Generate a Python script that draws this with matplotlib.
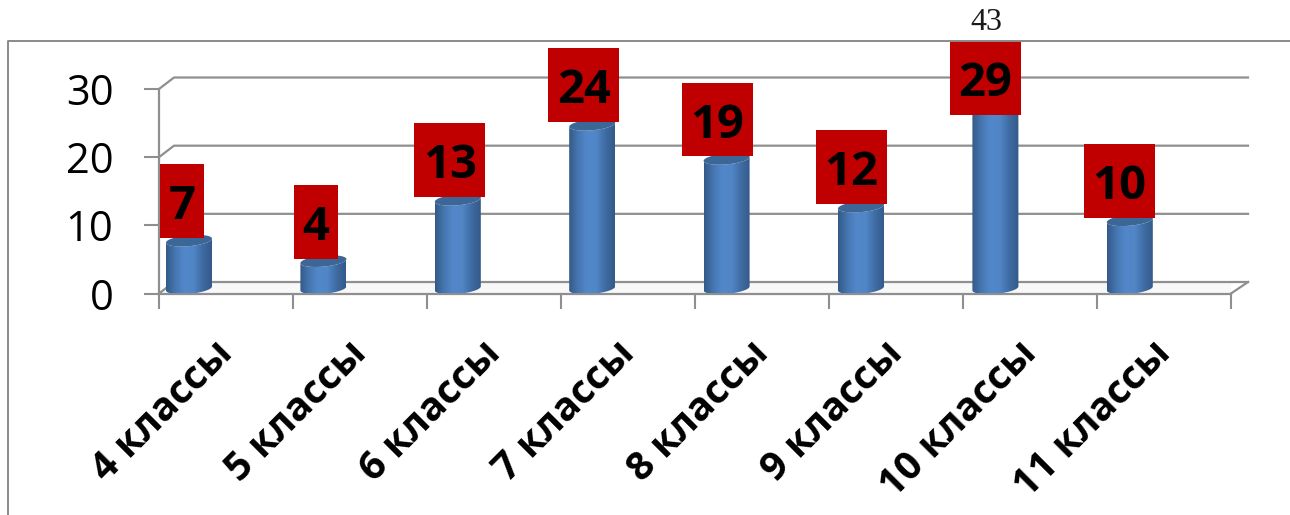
import matplotlib
matplotlib.use("Agg")
import matplotlib.pyplot as plt
import numpy as np
from matplotlib.colors import LinearSegmentedColormap
from matplotlib.lines import Line2D
from matplotlib.patches import PathPatch, Polygon, Rectangle
from matplotlib.path import Path

categories = ["4 классы", "5 классы", "6 классы", "7 классы",
              "8 классы", "9 классы", "10 классы", "11 классы"]
values = [7, 4, 13, 24, 19, 12, 29, 10]
y_ticks = [0, 10, 20, 30]
stray_label = "43"

W, H = 1290, 515
GREY = "#8f8f8f"
slot_px = 134.0
unit_px = 6.82

plt.rcParams["font.family"] = ["Open Sans", "DejaVu Sans"]

fig = plt.figure(figsize=(W / 100, H / 100), dpi=100)
ax = fig.add_axes([159 / W, (H - 293.5) / H, 1072 / W, 204.5 / H])

cmap = LinearSegmentedColormap.from_list(
    "cyl", ["#345a88", "#4677b2", "#5288cb", "#5085c6", "#3f6ca3", "#34598a"])
gradient = np.linspace(0, 1, 64).reshape(1, -1)


def ellipse(cx, cy, t):
    # tilted ellipse, right side sits a bit higher than the left
    x = cx + 23 / slot_px * np.cos(t)
    y = cy + (5.5 / unit_px) * np.sin(t) + (2 / unit_px) * np.cos(t)
    return x, y


def cylinder(cx, value):
    low = 0.75
    top = value + 0.75
    t_front = np.linspace(np.pi, 2 * np.pi, 40)
    bx, by = ellipse(cx, low, t_front)
    tx, ty = ellipse(cx, top, t_front[::-1])
    verts = np.column_stack([np.r_[bx, tx], np.r_[by, ty]])
    body = PathPatch(Path(np.vstack([verts, verts[0]])), transform=ax.transData,
                     fc="none", ec="none")
    ax.add_patch(body)
    im = ax.imshow(gradient, cmap=cmap, aspect="auto", zorder=3,
                   extent=[cx - 23 / slot_px, cx + 23 / slot_px, 0, top + 2])
    im.set_clip_path(body)
    t_all = np.linspace(0, 2 * np.pi, 80)
    cx_pts, cy_pts = ellipse(cx, top, t_all)
    ax.add_patch(Polygon(np.column_stack([cx_pts, cy_pts]), fc="#3c6696",
                         ec="none", zorder=4, clip_on=False))


# back wall and floor
back_dx = 15 / slot_px
back_dy = 11.5 / unit_px
ax.add_patch(Polygon([[0, 0], [back_dx, back_dy], [8.127, back_dy], [8, 0]],
                     fc="#f8f8f8", ec="none", zorder=0))
for v in y_ticks:
    ax.plot([0, back_dx, 8.127], [v, v + back_dy, v + back_dy],
            color=GREY, lw=1.6, zorder=1, clip_on=False)
ax.plot([8, 8.127], [0, back_dy], color=GREY, lw=1.6, zorder=1, clip_on=False)

for i, v in enumerate(values):
    cylinder((30 + 134.4 * i) / slot_px, v)

# red value boxes, the tallest one is pushed down under the frame
box_top_limit = (293.5 - 41) / unit_px
for i, (v, name) in enumerate(zip(values, categories)):
    cx = (23 + 133.9 * i) / slot_px
    w = (44 if v < 10 else 71) / slot_px
    h = 74 / unit_px
    cy = v + 44.5 / unit_px
    if cy + h / 2 > box_top_limit:
        cy = box_top_limit - h / 2
    ax.add_patch(Rectangle((cx - w / 2, cy - h / 2), w, h, fc="#c00000", ec="none",
                           zorder=5, clip_on=False))
    ax.text(cx, cy, str(v), ha="center", va="center_baseline", fontsize=34,
            fontweight="bold", color="black", zorder=6, clip_on=False)
    ax.text(i + 0.40, -5.9, name, rotation=45, rotation_mode="anchor", ha="right",
            va="top", fontsize=28.5, fontweight="bold", color="black", clip_on=False)

ax.set_xlim(0, 8)
ax.set_ylim(0, 30)
ax.set_xticks(range(9))
ax.set_xticklabels([])
ax.set_yticks(y_ticks)
ax.tick_params(axis="both", length=10.8, width=1.5, color=GREY)
ax.tick_params(axis="y", labelsize=30, pad=22)
for side in ["top", "right"]:
    ax.spines[side].set_visible(False)
for side in ["left", "bottom"]:
    ax.spines[side].set_color(GREY)
    ax.spines[side].set_linewidth(1.6)
ax.patch.set_alpha(0)

# outer frame of the picture
fig.add_artist(Line2D([8 / W, 8 / W, 1], [0, (H - 41) / H, (H - 41) / H],
                      color="#8a8a8a", lw=1.4))
fig.text(986 / W, (H - 22) / H, stray_label, ha="center", va="center", fontsize=23,
         family=["Liberation Serif", "DejaVu Serif"], color="#1a1a1a")

fig.savefig("out.png", dpi=100)
